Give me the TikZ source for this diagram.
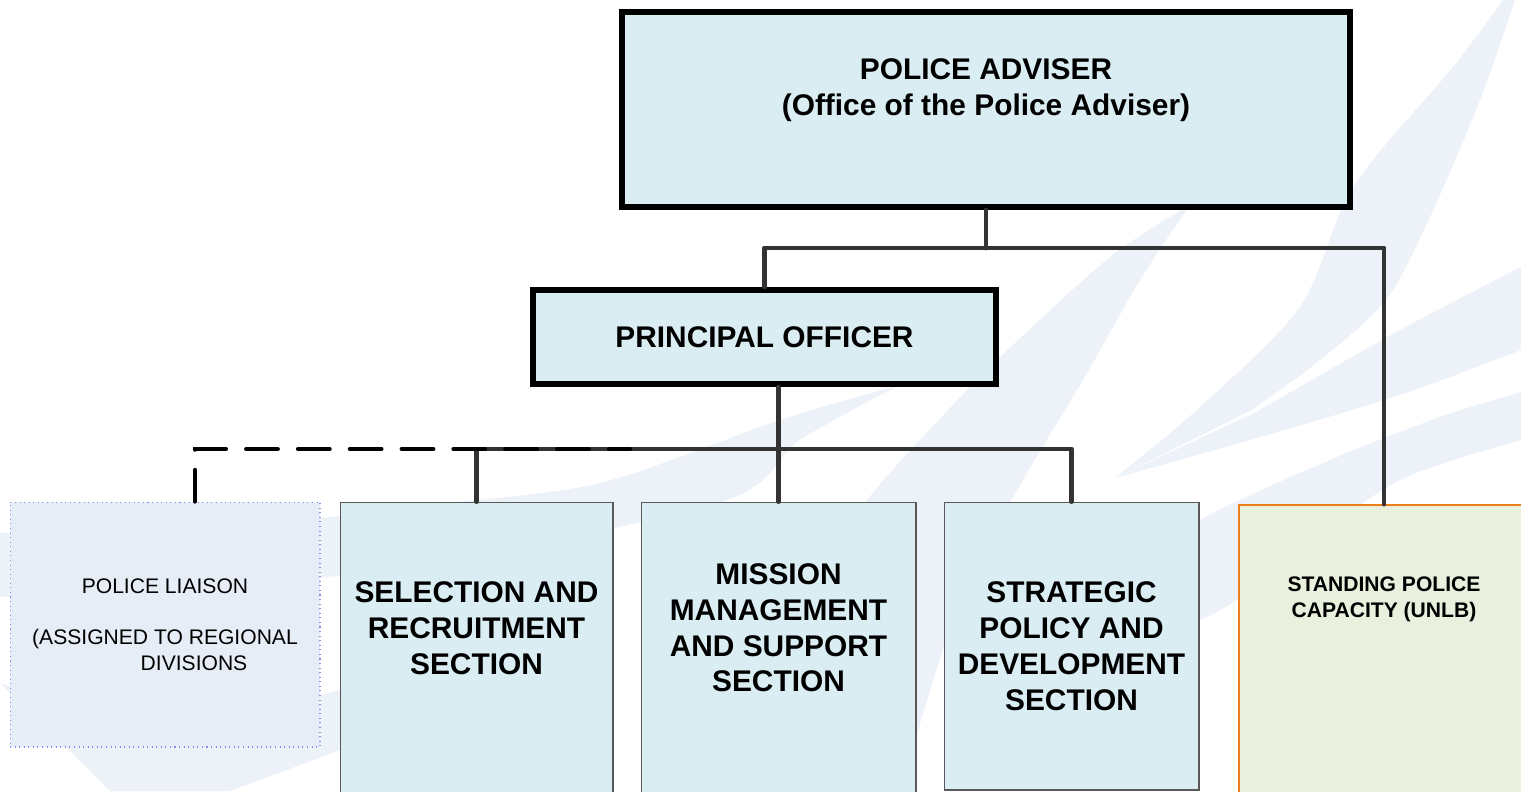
\documentclass[tikz,border=0pt]{standalone}
\usepackage{fontspec}
\setmainfont{Liberation Sans}
\definecolor{boxblue}{HTML}{DAEDF3}
\definecolor{liaisonblue}{HTML}{E7EDF7}
\definecolor{liaisonline}{HTML}{8A8AF2}
\definecolor{spcgreen}{HTML}{E9F0DE}
\definecolor{spcorange}{HTML}{F07D1C}
\definecolor{linkgray}{HTML}{333333}
\definecolor{wmblue}{HTML}{EDF2F9}
\newcommand{\boxtext}[4]{\parbox[c][#2][t]{#1}{\centering\vspace*{#3}#4}}
\begin{document}
\begin{tikzpicture}[x=0.02cm, y=-0.02cm,
        headbox/.style={draw, line width=3.6pt, fill=boxblue, inner sep=0pt,
            font=\fontsize{17}{20.4}\selectfont\bfseries},
        sectbox/.style={draw=black!65, line width=0.6pt, fill=boxblue, inner sep=0pt,
            font=\fontsize{17}{20.4}\selectfont\bfseries},
        liaisonbox/.style={draw=liaisonline, dotted, line width=0.6pt, fill=liaisonblue,
            font=\fontsize{12}{14.7}\selectfont},
        spcbox/.style={draw=spcorange, line width=1.1pt, fill=spcgreen, inner sep=0pt,
            font=\fontsize{12}{14.7}\selectfont\bfseries},
        link/.style={draw=linkgray, line width=2.8pt, line cap=round, line join=round},
        liaisonlink/.style={draw=black, line width=2.4pt, line cap=round,
            dash pattern=on 18pt off 11.5pt}]
        \useasboundingbox (0,0) rectangle (1521,791);
        \clip (0,0) rectangle (1521,791);

        % watermark
        \fill[wmblue] plot[smooth] coordinates {(1503,0) (1453,67) (1353,187) (1300,307) (1200,407) (1115,478)}
            -- plot[smooth] coordinates {(1252,410) (1320,360) (1386,300) (1430,217) (1480,100) (1515,0)} -- cycle;
        \fill[wmblue] plot[smooth] coordinates {(1115,478) (1250,440) (1400,395) (1521,350)}
            -- plot[smooth] coordinates {(1521,267) (1400,330) (1256,412)} -- cycle;
        \fill[wmblue] plot[smooth] coordinates {(950,700) (1100,590) (1200,520) (1330,460) (1440,417) (1521,392)}
            -- plot[smooth] coordinates {(1521,440) (1400,480) (1300,550) (1200,620) (950,700)} -- cycle;
        \fill[wmblue] plot[smooth] coordinates {(1190,205) (1110,257) (1000,357) (967,390) (867,500) (760,650) (680,791)}
            -- plot[smooth] coordinates {(900,791) (960,600) (1023,480) (1083,380) (1140,280) (1190,205)} -- cycle;
        \fill[wmblue] plot[smooth] coordinates {(900,385) (780,420) (600,483) (430,505) (200,530) (0,533)}
            -- plot[smooth] coordinates {(0,597) (200,590) (450,560) (727,500) (800,440) (900,385)} -- cycle;
        \fill[wmblue] plot[smooth] coordinates {(0,683) (150,720) (340,690) (520,620)}
            -- plot[smooth] coordinates {(520,680) (340,750) (230,791)} -- (110,791) -- cycle;

        \node[headbox] (adv) at (986,109.5)
            {\boxtext{14.56cm}{3.9cm}{0.93cm}{POLICE ADVISER\\(Office of the Police Adviser)}};
        \node[headbox, minimum width=9.26cm, minimum height=1.88cm] (po) at (764.5,337) {PRINCIPAL OFFICER};
        \node[liaisonbox, minimum width=6.2cm, minimum height=4.9cm, align=center] (lia) at (165,624.5)
            {POLICE LIAISON\\[14.7pt](ASSIGNED TO REGIONAL\\\hspace*{1.16cm}DIVISIONS};
        \node[sectbox] (sel) at (476.5,676)
            {\boxtext{5.46cm}{6.96cm}{1.59cm}{SELECTION AND\\RECRUITMENT\\SECTION}};
        \node[sectbox] (mis) at (778.5,676)
            {\boxtext{5.5cm}{6.96cm}{1.23cm}{MISSION\\MANAGEMENT\\AND SUPPORT\\SECTION}};
        \node[sectbox, minimum width=5.1cm, minimum height=5.76cm, align=center] (str) at (1071.5,646)
            {STRATEGIC\\POLICY AND\\DEVELOPMENT\\SECTION};
        \node[spcbox] (spc) at (1384,677.5)
            {\boxtext{5.8cm}{6.9cm}{1.44cm}{STANDING POLICE\\CAPACITY (UNLB)}};

        \coordinate (advbus) at (986,248);
        \coordinate (posbus) at (779,449);
        \coordinate (dashend) at (630,449);

        \draw[link] (adv.south) -- (advbus);
        \draw[link] (po.north) |- (advbus) -| (spc.north);
        \draw[link] (mis.north) -- (mis.north |- po.south);
        \draw[link] (sel.north) |- (posbus) -| (str.north);
        \draw[liaisonlink] ([xshift=0.6cm]lia.north) |- (dashend);

        \end{tikzpicture}
\end{document}
